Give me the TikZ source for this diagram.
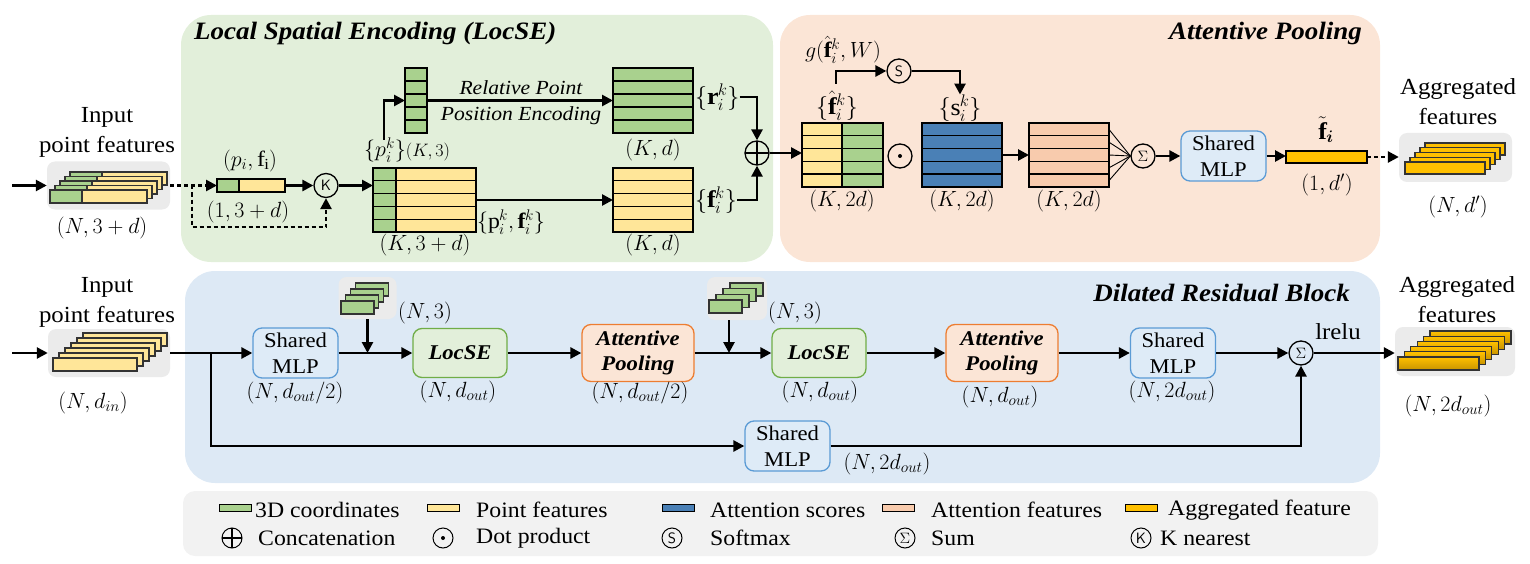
\RequirePackage{fix-cm}
\documentclass[tikz,border=0pt]{standalone}
\usepackage{amsmath}
\usepackage{amssymb}
\usepackage{fontspec}
\setmainfont{Liberation Serif}[FakeStretch=1.08]
\usetikzlibrary{arrows.meta}

\definecolor{panelgreen}{HTML}{E2EFDA}
\definecolor{panelorange}{HTML}{FBE5D6}
\definecolor{panelblue}{HTML}{DDE9F5}
\definecolor{legendgray}{HTML}{F2F2F2}
\definecolor{stackgray}{HTML}{EBEBEB}
\definecolor{coordgreen}{HTML}{A9D18E}
\definecolor{ptyellow}{HTML}{FFE699}
\definecolor{attblue}{HTML}{4A80B6}
\definecolor{attpeach}{HTML}{F8CBAD}
\definecolor{aggold}{HTML}{FFC000}
\definecolor{aggdark}{HTML}{C89400}
\definecolor{mlpline}{HTML}{5B9BD5}
\definecolor{mlpfill}{HTML}{DEEBF7}
\definecolor{locline}{HTML}{70AD47}
\definecolor{apline}{HTML}{ED7D31}

% feature matrix: name, x, y, width, height, fill, left width, left fill
\newcommand{\featmat}[8]{%
  \fill[#6] (#2,#3) rectangle ++(#4,#5);
  \fill[#8] (#2,#3) rectangle ++(#7,#5);
  \foreach \row in {1,...,4}
    \draw[matline] (#2,#3+#5*\row/5) -- ++(#4,0);
  \draw[matline] (#2+#7,#3) -- ++(0,#5);
  \node[matbox,minimum width=#4,minimum height=#5,anchor=north west] (#1) at (#2,#3) {};
}
% stack of bars: x, y, last index, dx, dy, width, height, fill options
\newcommand{\barstack}[8]{%
  \foreach \i in {#3,...,0}
    \draw[barline,#8] (#1+#4*\i,#2-#5*\i) rectangle ++(#6,#7);
}

\begin{document}
\begin{tikzpicture}
	[x=1pt,y=-1pt,
	 lbl/.style={align=center,inner sep=0pt,font=\fontsize{23}{30}\selectfont},
	 dim/.style={inner sep=0pt,font=\fontsize{22}{24}\selectfont},
	 kset/.style={inner sep=0pt,font=\fontsize{24}{26}\selectfont},
	 heading/.style={inner sep=0pt,font=\fontsize{25}{28}\selectfont\bfseries\itshape},
	 box/.style={draw,rounded corners=9pt,line width=1.3pt,inner sep=0pt,align=center,font=\fontsize{21}{26}\selectfont},
	 mlp/.style={box,draw=mlpline,fill=mlpfill,minimum width=85,minimum height=50},
	 locse/.style={box,draw=locline,fill=panelgreen,minimum width=94,minimum height=49,font=\fontsize{21}{25}\selectfont\bfseries\itshape},
	 attpool/.style={box,draw=apline,fill=panelorange,minimum width=112,minimum height=57,font=\fontsize{21}{25}\selectfont\bfseries\itshape},
	 op/.style={circle,draw,line width=1.3pt,minimum size=24,inner sep=0pt,font=\fontsize{15}{15}\selectfont},
	 lop/.style={op,minimum size=20,line width=1pt},
	 oplus/.style={path picture={\draw[line width=1.1pt] (path picture bounding box.north) -- (path picture bounding box.south) (path picture bounding box.west) -- (path picture bounding box.east);}},
	 odot/.style={path picture={\fill (path picture bounding box.center) circle (2pt);}},
	 arr/.style={line width=2.6pt,-{Triangle[length=11pt,width=11pt]}},
	 dotarr/.style={arr,dash pattern=on 4pt off 3pt},
	 fan/.style={line width=0.9pt},
	 matline/.style={line width=1.4pt},
	 matbox/.style={draw,line width=1.4pt,inner sep=0pt,outer sep=0pt},
	 barline/.style={draw=black!80,line width=1.2pt},
	 stackbg/.style={fill=stackgray,rounded corners=8pt,inner sep=0pt},
	 swatch/.style={draw,line width=1pt,inner sep=0pt,minimum width=32,minimum height=7},
	 leg/.style={inner sep=0pt,anchor=west,font=\fontsize{22}{24}\selectfont}]
	\useasboundingbox (0,0) rectangle (1530,564);

	% panels
	\fill[panelgreen,rounded corners=30pt] (181,15) rectangle (773,262);
	\fill[panelorange,rounded corners=30pt] (780,15) rectangle (1380,262);
	\fill[panelblue,rounded corners=30pt] (185,271) rectangle (1380,483);
	\fill[legendgray,rounded corners=12pt] (183,491) rectangle (1378,556);
	\node[heading,anchor=west] (locsetitle) at (194,33) {Local Spatial Encoding (LocSE)};
	\node[heading,anchor=east] (aptitle) at (1362,33) {Attentive Pooling};
	\node[heading,anchor=east] (drbtitle) at (1350,293) {Dilated Residual Block};

	% LocSE
	\coordinate (inA) at (12,185.5);
	\node[stackbg,minimum width=123,minimum height=48] (inbg) at (108.5,185.5) {};
	\foreach \i in {4,3,...,0} {
		\draw[barline,fill=ptyellow] (50+5*\i,190-4.5*\i) rectangle ++(97,13);
		\draw[barline,fill=coordgreen] (50+5*\i,190-4.5*\i) rectangle ++(32,13);
	}
	\node[lbl] (inlab) at (107,132) {Input\\point features};
	\node[dim] (indim) at (102,228) {$(N,3+d)$};
	\draw[arr] (inA) -- (inbg);
	\node[matbox,fill=ptyellow,minimum width=68,minimum height=13,anchor=west] (pf) at (217,185.5) {};
	\draw[barline,draw=black,fill=coordgreen] (pf.north west) rectangle ++(22,13);
	\node[dim] (pflab) at (250,161) {$(p_i,\mathrm{f}_\mathrm{i})$};
	\node[dim] (pfdim) at (248,212) {$(1,3+d)$};
	\node[op] (knn) at (326,185.5) {\sffamily K};
	\coordinate (split) at (192,185.5);
	\coordinate (dip) at (192,227);
	\draw[dotarr] (inbg) -- (pf);
	\draw[dotarr] (split) -- (dip) -| (knn);
	\draw[arr] (pf) -- (knn);
	\featmat{pfmat}{373}{168}{103}{64}{ptyellow}{23}{coordgreen}
	\draw[arr] (knn) -- (knn -| pfmat.west);
	\node[dim] (pfmatdim) at (425,245) {$(K,3+d)$};
	\node[dim,anchor=west] (pflab2) at (477,222) {$\{\mathrm{p}_i^k,\mathbf{f}_i^k\}$};
	\featmat{col}{405}{68}{22}{65}{coordgreen}{0}{coordgreen}
	\node[dim,anchor=west] (plab) at (364,150) {$\{p_i^k\}${\fontsize{18}{20}\selectfont$(K,3)$}};
	\coordinate (pup) at (384,140);
	\draw[arr] (pup) |- (col);
	\featmat{rmat}{613}{68}{80}{65}{coordgreen}{0}{coordgreen}
	\featmat{fmat}{613}{168}{80}{64}{ptyellow}{0}{ptyellow}
	\node[lbl,font=\fontsize{20}{26}\selectfont\itshape] (rppe) at (521,103) {Relative Point\\Position Encoding};
	\draw[arr] (col) -- (rmat);
	\draw[arr] (pfmat) -- (fmat);
	\node[dim] (rdim) at (653,150) {$(K,d)$};
	\node[dim] (fdim) at (653,245) {$(K,d)$};
	\node[kset,anchor=west] (rlab) at (695,97) {$\{\mathbf{r}_i^k\}$};
	\node[kset,anchor=west] (flab) at (695,200) {$\{\mathbf{f}_i^k\}$};
	\node[op,oplus] (cat) at (757,153) {};
	\draw[arr] (rlab) -| (cat);
	\draw[arr] (flab) -| (cat);

	% Attentive pooling
	\featmat{fhat}{802}{123}{81}{64}{coordgreen}{40}{ptyellow}
	\draw[arr] (cat) -- (cat -| fhat.west);
	\node[kset] (fhatlab) at (837,106) {$\{\hat{\mathbf{f}}_i^k\}$};
	\node[dim] (glab) at (843,50) {$g(\hat{\mathbf{f}}_i^k,W)$};
	\node[op] (smax) at (899,71) {\sffamily S};
	\coordinate (gup) at (836,84);
	\draw[arr] (gup) |- (smax);
	\node[kset] (slab) at (960,108) {$\{\mathrm{s}_i^k\}$};
	\draw[arr] (smax) -| (slab);
	\node[op,odot] (dotp) at (900,156) {};
	\featmat{smat}{922}{123}{80}{64}{attblue}{0}{attblue}
	\featmat{amat}{1029}{123}{80}{64}{attpeach}{0}{attpeach}
	\draw[arr] (smat) -- (amat);
	\node[dim] (fhatdim) at (842,201) {$(K,2d)$};
	\node[dim] (smatdim) at (962,201) {$(K,2d)$};
	\node[dim] (amatdim) at (1069,201) {$(K,2d)$};
	\node[op] (sumA) at (1143,156) {$\Sigma$};
	\foreach \row in {0,...,4}
		\draw[fan] (1109,129.4+12.8*\row) -- (sumA.west);
	\node[mlp] (mlpT) at (1223.5,156) {Shared\\MLP};
	\draw[arr] (sumA) -- (mlpT);
	\node[matbox,fill=aggold,minimum width=81,minimum height=12] (fbar) at (1326.5,157) {};
	\draw[arr] (mlpT) -- (mlpT -| fbar.west);
	\node[kset] (ftlab) at (1326,130) {$\tilde{\mathbf{f}}_{\boldsymbol{i}}$};
	\node[dim] (fbardim) at (1327,185) {$(1,d')$};
	\node[stackbg,minimum width=113,minimum height=49] (outbg) at (1455.5,157.5) {};
	\barstack{1405}{162}{4}{5}{4.75}{80}{12}{fill=aggold}
	\draw[dotarr] (fbar) -- (fbar -| outbg.west);
	\node[lbl] (outlab) at (1458,102) {Aggregated\\features};
	\node[dim] (outdim) at (1458,207) {$(N,d')$};

	% Dilated residual block
	\coordinate (inB) at (12,353);
	\node[stackbg,minimum width=122,minimum height=48] (inbg2) at (109,353) {};
	\barstack{53}{358}{5}{6}{5}{84}{13}{fill=ptyellow}
	\node[lbl] (inlab2) at (107,302) {Input\\point features};
	\node[dim] (indim2) at (93,403) {$(N,d_{in})$};
	\draw[arr] (inB) -- (inbg2);
	\node[mlp] (mlpA) at (295.5,353) {Shared\\MLP};
	\node[locse] (locA) at (460,353) {LocSE};
	\node[attpool] (apA) at (638,353) {Attentive\\Pooling};
	\node[locse] (locB) at (819,353) {LocSE};
	\node[attpool] (apB) at (1002,353) {Attentive\\Pooling};
	\node[mlp] (mlpB) at (1173,353) {Shared\\MLP};
	\node[op] (sumB) at (1301,353) {$\Sigma$};
	\node[mlp] (mlpC) at (787.5,446) {Shared\\MLP};
	\node[stackbg,minimum width=58,minimum height=42] (ptsA) at (367.5,298) {};
	\barstack{341}{301}{3}{4.7}{6}{33}{13}{fill=coordgreen}
	\node[stackbg,minimum width=60,minimum height=43] (ptsB) at (737,298.5) {};
	\barstack{709}{300}{3}{7}{5.7}{33}{13}{fill=coordgreen}
	\coordinate (jA) at (367.5,353);
	\coordinate (jB) at (729,353);
	\coordinate (split2) at (211,353);
	\draw[arr] (inbg2) -- (mlpA);
	\draw[arr] (mlpA) -- (locA);
	\draw[arr] (locA) -- (apA);
	\draw[arr] (apA) -- (locB);
	\draw[arr] (locB) -- (apB);
	\draw[arr] (apB) -- (mlpB);
	\draw[arr] (mlpB) -- (sumB);
	\draw[arr] (ptsA) -- (jA);
	\draw[arr] (ptsB.south -| jB) -- (jB);
	\draw[arr] (split2) |- (mlpC);
	\draw[arr] (mlpC) -| (sumB);
	\node[dim] (mlpAdim) at (295,393) {$(N,d_{out}/2)$};
	\node[dim] (locAdim) at (458,392) {$(N,d_{out})$};
	\node[dim] (apAdim) at (640,393) {$(N,d_{out}/2)$};
	\node[dim] (locBdim) at (820,392) {$(N,d_{out})$};
	\node[dim] (apBdim) at (1000,397) {$(N,d_{out})$};
	\node[dim] (mlpBdim) at (1172,392) {$(N,2d_{out})$};
	\node[dim] (mlpCdim) at (887,464) {$(N,2d_{out})$};
	\node[dim] (ptsAdim) at (425,313) {$(N,3)$};
	\node[dim] (ptsBdim) at (795,313) {$(N,3)$};
	\node[lbl] (lrelu) at (1338,332) {lrelu};
	\node[stackbg,minimum width=120,minimum height=49] (outbg2) at (1455,351.5) {};
	\barstack{1398}{357}{5}{6.4}{5.2}{81}{13}{top color=aggold,bottom color=aggdark}
	\draw[arr] (sumB) -- (sumB -| outbg2.west);
	\node[lbl] (outlab2) at (1457,300) {Aggregated\\features};
	\node[dim] (outdim2) at (1448,406) {$(N,2d_{out})$};

	% legend
	\node[swatch,fill=coordgreen] (lgcoord) at (235.5,508) {};
	\node[leg] (lgcoordt) at (255,510) {3D coordinates};
	\node[swatch,fill=ptyellow] (lgpt) at (443.5,508) {};
	\node[leg] (lgptt) at (476,510) {Point features};
	\node[swatch,fill=attblue] (lgscore) at (678,508) {};
	\node[leg] (lgscoret) at (710,510) {Attention scores};
	\node[swatch,fill=attpeach] (lgfeat) at (898,508) {};
	\node[leg] (lgfeatt) at (931,510) {Attention features};
	\node[swatch,fill=aggold] (lgagg) at (1141,508) {};
	\node[leg] (lgaggt) at (1168,510) {Aggregated feature};
	\node[lop,oplus] (lgcat) at (232,538) {};
	\node[leg] (lgcatt) at (258,538) {Concatenation};
	\node[lop,odot] (lgdot) at (443,538) {};
	\node[leg] (lgdott) at (476,538) {Dot product};
	\node[lop] (lgsmax) at (672,538) {\sffamily S};
	\node[leg] (lgsmaxt) at (710,538) {Softmax};
	\node[lop] (lgsum) at (905,538) {$\Sigma$};
	\node[leg] (lgsumt) at (931,538) {Sum};
	\node[lop] (lgknn) at (1141,538) {\sffamily K};
	\node[leg] (lgknnt) at (1160,538) {K nearest};
\end{tikzpicture}
\end{document}
